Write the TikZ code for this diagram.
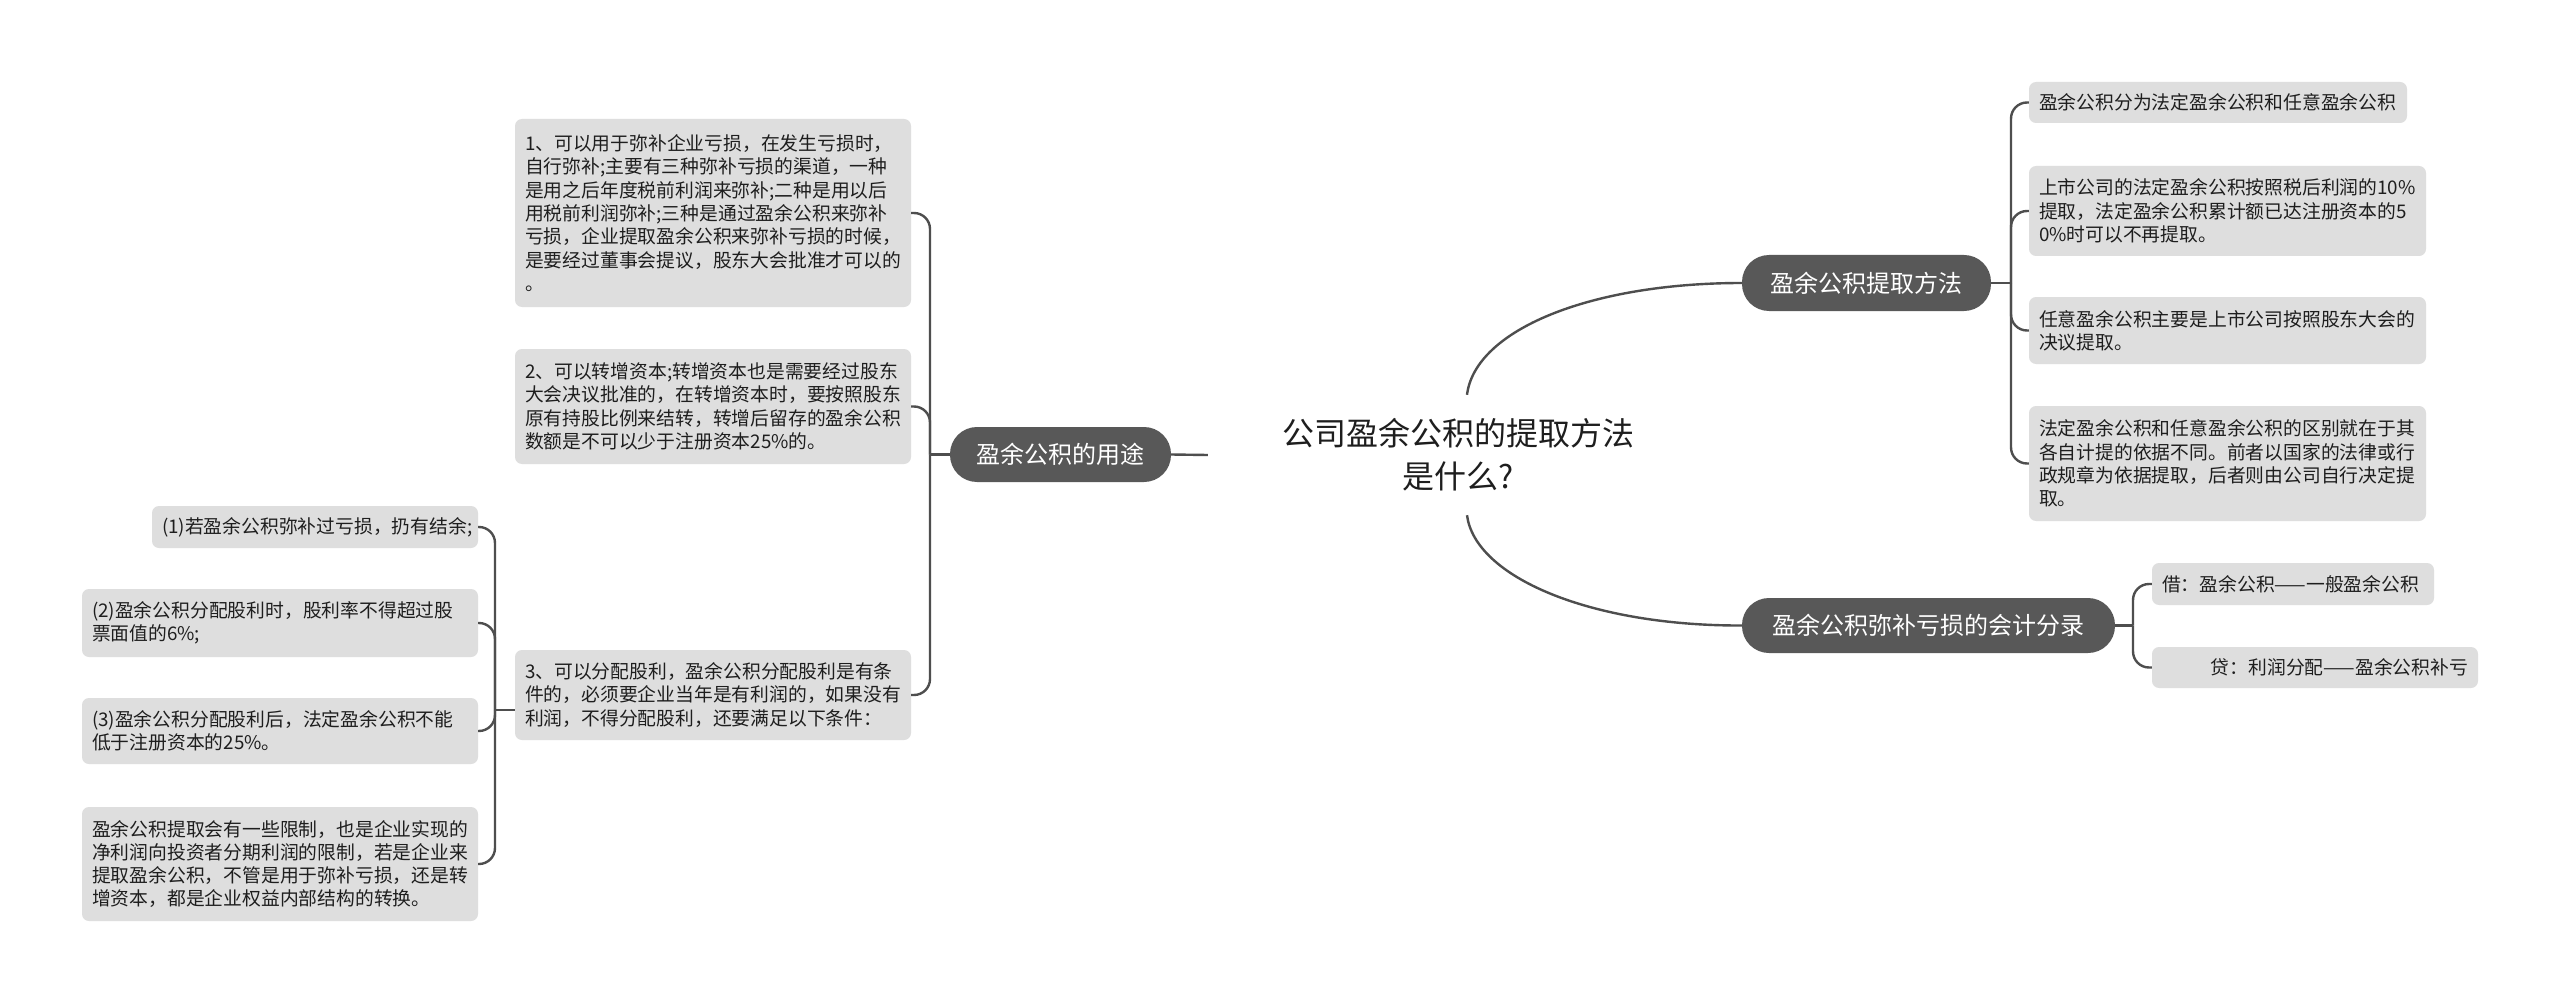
\documentclass[tikz,border=0pt]{standalone}
\usepackage{fontspec}
\newfontfamily\cjk{Noto Sans CJK SC}
\definecolor{boxgray}{RGB}{222,222,222}
\definecolor{branchgray}{RGB}{88,88,88}
\definecolor{linegray}{RGB}{78,78,78}
\definecolor{txt}{RGB}{30,30,30}
\tikzset{
  leaf/.style={fill=boxgray, rounded corners=7pt, align=left, inner xsep=10pt, inner ysep=0pt,
    text=txt, font={\cjk\fontsize{18.8}{23.3}\selectfont}},
  branch/.style={fill=branchgray, rounded corners=27pt, text=white, inner sep=0pt,
    font={\cjk\fontsize{24}{28}\selectfont}},
  conn/.style={draw=linegray, line width=2.4pt},
}
\begin{document}
\begin{tikzpicture}[x=1pt,y=-1pt]
\useasboundingbox (0,0) rectangle (2560,1003);
\fill[white] (0,0) rectangle (2560,1003);

% central topic
\node[align=center, minimum width=500pt, minimum height=120pt, inner sep=0pt, text=txt,
  font={\cjk\fontsize{32}{43}\selectfont}] (c) at (1458,455) {公司盈余公积的提取方法\\是什么?};

% main branches
\node[branch, minimum width=249pt, minimum height=56pt] (b1) at (1866.5,283) {盈余公积提取方法};
\node[branch, minimum width=373pt, minimum height=55pt] (b2) at (1928.5,625.5) {盈余公积弥补亏损的会计分录};
\node[branch, minimum width=221pt, minimum height=55pt] (b3) at (1060.5,454.5) {盈余公积的用途};

% right: children of b1
\node[leaf, text width=358pt, minimum height=41pt] (ra) at (2218,102.5) {盈余公积分为法定盈余公积和任意盈余公积};
\node[leaf, text width=377pt, minimum height=90pt] (rb) at (2227.5,211) {上市公司的法定盈余公积按照税后利润的10\%\\提取，法定盈余公积累计额已达注册资本的5\\0\%时可以不再提取。};
\node[leaf, text width=377pt, minimum height=67pt] (rc) at (2227.5,330.5) {任意盈余公积主要是上市公司按照股东大会的\\决议提取。};
\node[leaf, text width=377pt, minimum height=115pt] (rd) at (2227.5,463.5) {法定盈余公积和任意盈余公积的区别就在于其\\各自计提的依据不同。前者以国家的法律或行\\政规章为依据提取，后者则由公司自行决定提\\取。};

% right: children of b2
\node[leaf, text width=262pt, minimum height=42pt] (re) at (2293,584) {借：盈余公积——一般盈余公积};
\node[leaf, align=right, text width=306pt, minimum height=41pt] (rf) at (2315,667.5) {贷：利润分配——盈余公积补亏};

% left: children of b3
\node[leaf, text width=376pt, minimum height=188pt] (u1) at (713,213) {1、可以用于弥补企业亏损，在发生亏损时，\\自行弥补;主要有三种弥补亏损的渠道，一种\\是用之后年度税前利润来弥补;二种是用以后\\用税前利润弥补;三种是通过盈余公积来弥补\\亏损，企业提取盈余公积来弥补亏损的时候，\\是要经过董事会提议，股东大会批准才可以的\\。};
\node[leaf, text width=376pt, minimum height=115pt] (u2) at (713,406.5) {2、可以转增资本;转增资本也是需要经过股东\\大会决议批准的，在转增资本时，要按照股东\\原有持股比例来结转，转增后留存的盈余公积\\数额是不可以少于注册资本25\%的。};
\node[leaf, text width=376pt, minimum height=90pt] (u3) at (713,695) {3、可以分配股利，盈余公积分配股利是有条\\件的，必须要企业当年是有利润的，如果没有\\利润，不得分配股利，还要满足以下条件：};

% left: children of u3
\node[leaf, text width=306pt, minimum height=42pt] (v1) at (315,527) {(1)若盈余公积弥补过亏损，扔有结余;};
\node[leaf, text width=376pt, minimum height=68pt] (v2) at (280,623) {(2)盈余公积分配股利时，股利率不得超过股\\票面值的6\%;};
\node[leaf, text width=376pt, minimum height=66pt] (v3) at (280,731) {(3)盈余公积分配股利后，法定盈余公积不能\\低于注册资本的25\%。};
\node[leaf, text width=376pt, minimum height=114pt] (v4) at (280,864) {盈余公积提取会有一些限制，也是企业实现的\\净利润向投资者分期利润的限制，若是企业来\\提取盈余公积，不管是用于弥补亏损，还是转\\增资本，都是企业权益内部结构的转换。};

% connectors from central topic
\draw[conn] ([xshift=9pt]c.north) .. controls (1475,330) and (1590,283) .. (b1.west);
\draw[conn] ([xshift=9pt]c.south) .. controls (1475,577) and (1590,626) .. (b2.west);
\draw[conn] (c.west) -- (b3.east);

% b1 -> children
\coordinate (s1) at (2011,283);
\draw[conn] (b1.east) -- (s1);
\foreach \n in {ra,rb,rc,rd} \draw[conn, rounded corners=16pt] (s1) |- (\n.west);

% b2 -> children
\coordinate (s2) at (2133,625.5);
\draw[conn] (b2.east) -- (s2);
\foreach \n in {re,rf} \draw[conn, rounded corners=16pt] (s2) |- (\n.west);

% b3 -> children
\coordinate (s3) at (930,454.5);
\draw[conn] (b3.west) -- (s3);
\foreach \n in {u1,u2,u3} \draw[conn, rounded corners=16pt] (s3) |- (\n.east);

% u3 -> children
\coordinate (s4) at (495,710);
\draw[conn] ([yshift=-15pt]u3.west) -- (s4);
\foreach \n in {v1,v2,v3,v4} \draw[conn, rounded corners=16pt] (s4) |- (\n.east);
\end{tikzpicture}
\end{document}
